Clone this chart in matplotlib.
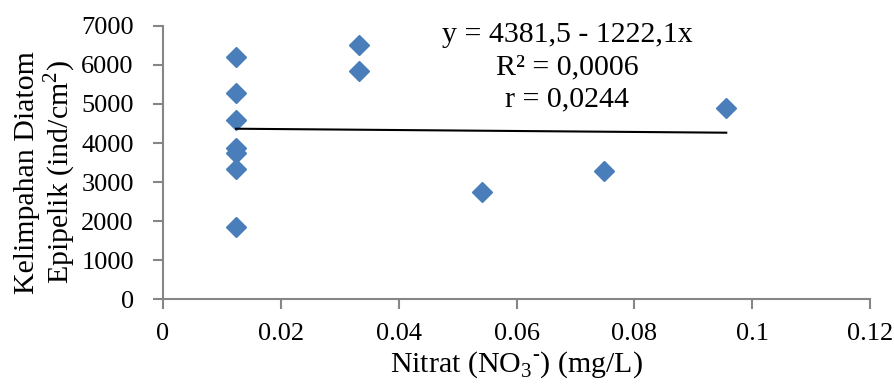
import matplotlib.pyplot as plt
import numpy as np

# data
nitrat = [0.0124, 0.0124, 0.0124, 0.0124, 0.0124, 0.0124, 0.0124,
          0.0332, 0.0332, 0.0541, 0.0748, 0.0956]
kelimpahan = [6194, 5289, 4591, 3867, 3739, 3338, 1862,
              6509, 5852, 2742, 3286, 4890]
intercept = 4381.5
slope = -1222.1
x_ticks = [0, 0.02, 0.04, 0.06, 0.08, 0.1, 0.12]
x_tick_labels = ['0', '0.02', '0.04', '0.06', '0.08', '0.1', '0.12']
y_ticks = [0, 1000, 2000, 3000, 4000, 5000, 6000, 7000]

plt.rcParams['font.family'] = ['Liberation Serif', 'DejaVu Serif']
plt.rcParams['mathtext.fontset'] = 'custom'
plt.rcParams['mathtext.rm'] = 'Liberation Serif'

fig = plt.figure(figsize=(8.94, 3.85), dpi=100)
ax = fig.add_axes([0.1823, 0.2221, 0.9732 - 0.1823, 0.9332 - 0.2221])

ax.plot(nitrat, kelimpahan, linestyle='none', marker='D', markersize=10,
        color='#4A7EBB', markeredgecolor='#4A7EBB')

# garis tren
xl = np.array([min(nitrat), max(nitrat)])
ax.plot(xl, intercept + slope * xl, color='black', linewidth=1.5)

ax.set_xlim(0, 0.12)
ax.set_ylim(0, 7000)
ax.set_xticks(x_ticks)
ax.set_xticklabels(x_tick_labels)
ax.set_yticks(y_ticks)

for s in ['top', 'right']:
    ax.spines[s].set_visible(False)
for s in ['left', 'bottom']:
    ax.spines[s].set_color('#868686')
    ax.spines[s].set_linewidth(1.5)
ax.tick_params(colors='#868686', labelcolor='black', width=1.5, length=7,
               labelsize=19)
ax.tick_params(axis='x', pad=10)
ax.tick_params(axis='y', pad=14)

ax.set_xlabel('Nitrat (NO$_{3}$$^{\\mathregular{\u2010}}$) (mg/L)', fontsize=21.5, labelpad=3)
ax.set_ylabel('Kelimpahan Diatom\nEpipelik (ind/cm$^2$)', fontsize=21.5,
              linespacing=1.07)
ax.yaxis.set_label_coords(-0.1203, 0.464)

ax.text(0.0686, 5940, 'y = 4381,5 - 1222,1x\nR² = 0,0006\nr = 0,0244',
        ha='center', va='center', fontsize=21.5, linespacing=1.3)

plt.savefig('out.png', dpi=100)
